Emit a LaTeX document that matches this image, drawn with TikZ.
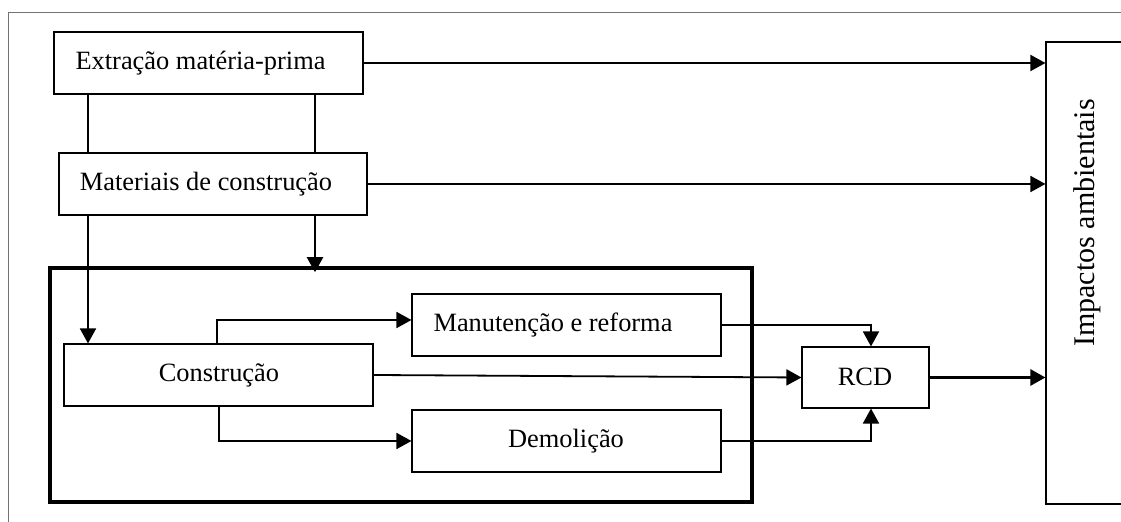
\documentclass[tikz,border=0pt]{standalone}
\usepackage{fontspec}
\setmainfont{Liberation Serif}
\usetikzlibrary{arrows.meta,fit}
\begin{document}
\begin{tikzpicture}[x=0.5pt,y=-0.5pt,
 box/.style={draw, line width=0.55pt, inner sep=0pt},
 txt/.style={inner sep=0pt, font=\fontsize{13.2}{16}\selectfont},
 conn/.style={line width=0.9pt},
 arr/.style={conn,-{Triangle[length=7.5pt,width=8pt]}},
 frameline/.style={draw=black!55, line width=0.5pt}]
\useasboundingbox (0,0) rectangle (1121,522);
\clip (0,0) rectangle (1121,522);
\draw[frameline] (8,530) -- (8,13) -- (1130,13);
% boxes
\node[box, fit={(54,32)(363,94)}] (ext) {};
\node[txt] (extT) at (200.5,63) {Extração matéria-prima};
\node[box, fit={(59,153)(367,215)}] (mat) {};
\node[txt] (matT) at (206,184) {Materiais de construção};
\node[box, line width=1.8pt, fit={(50,268)(752,502)}] (thick) {};
\node[box, fit={(64,344)(373,406)}] (cons) {};
\node[txt] (consT) at (219,375) {Construção};
\node[box, fit={(412,294)(721,356)}] (man) {};
\node[txt] (manT) at (553,325) {Manutenção e reforma};
\node[box, fit={(412,410)(721,472)}] (dem) {};
\node[txt] (demT) at (566,441) {Demolição};
\node[box, fit={(802,347)(929,408)}] (rcd) {};
\node[txt] (rcdT) at (865,377) {RCD};
\node[box, fit={(1046,42)(1140,504)}] (imp) {};
\node[txt, font=\fontsize{15}{18}\selectfont, rotate=90] (impT) at (1087,223) {Impactos ambientais};
% helper coordinates
\coordinate (xL) at (88,0);
\coordinate (xR) at (315,0);
\coordinate (xM) at (217,0);
\coordinate (xD) at (219,0);
\coordinate (xC) at (871,0);
\coordinate (yM) at (0,320);
% connectors
\draw[conn] (ext.south -| xL) -- (mat.north -| xL);
\draw[conn] (ext.south -| xR) -- (mat.north -| xR);
\draw[arr] (mat.south -| xL) -- (cons.north -| xL);
\draw[arr, line width=1.2pt, shorten >=-3pt] (mat.south -| xR) -- (thick.north -| xR);
\draw[arr] (cons.north -| xM) |- (man.west |- yM);
\draw[arr] (cons.south -| xD) |- (dem.west);
\draw[arr] (cons.east) -- (rcd.west);
\draw[arr] (man.east) -| (rcd.north -| xC);
\draw[arr] (dem.east) -| (rcd.south -| xC);
\draw[arr, line width=1.3pt] (rcd.east) -- (imp.west |- rcd.east);
\draw[arr] (ext.east) -- (imp.west |- ext.east);
\draw[arr] (mat.east) -- (imp.west |- mat.east);
\end{tikzpicture}
\end{document}
